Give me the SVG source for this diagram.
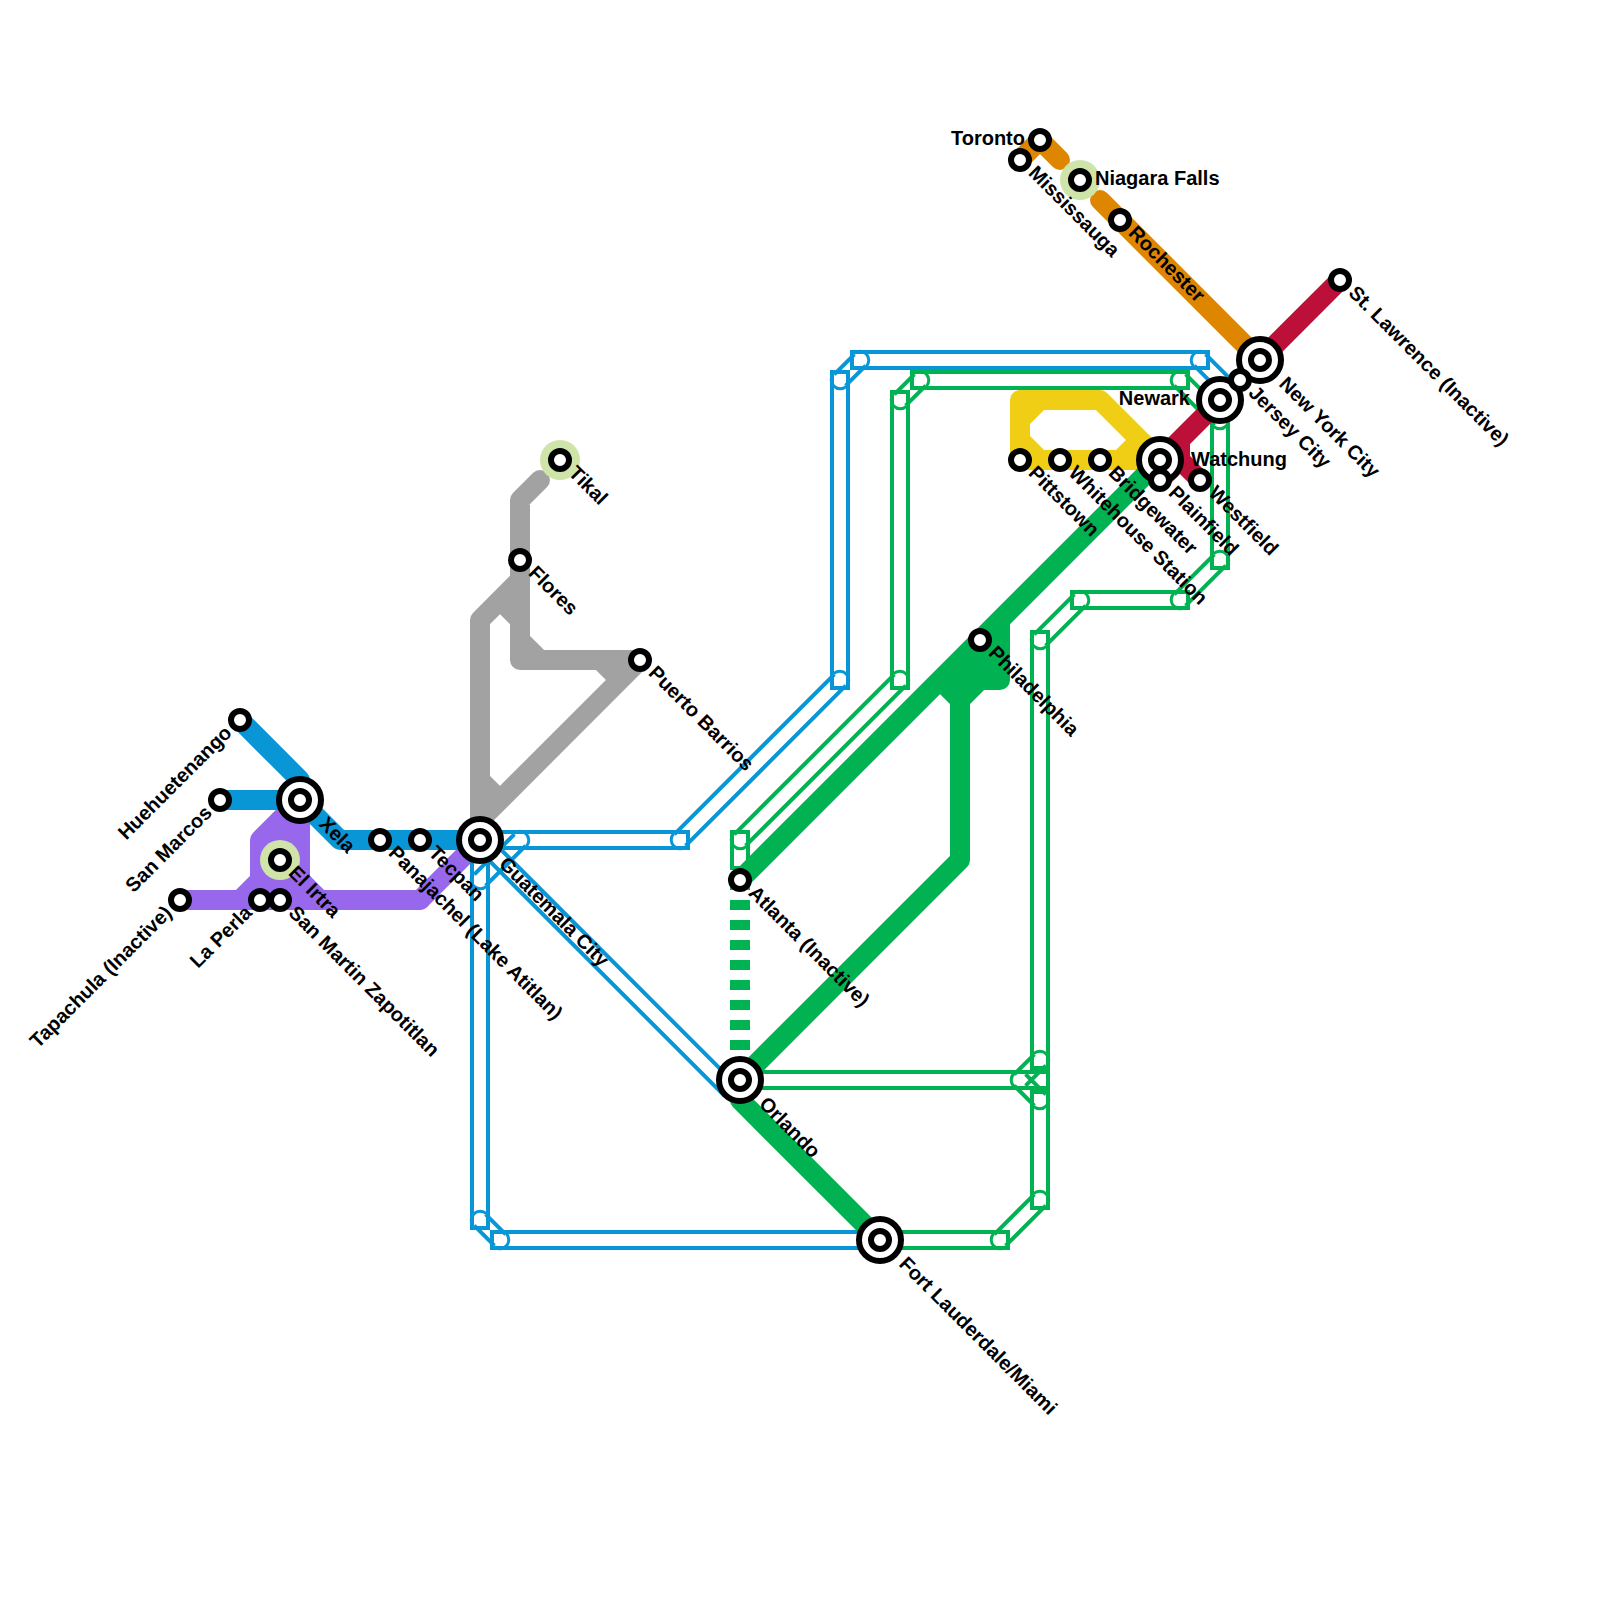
<svg xmlns="http://www.w3.org/2000/svg" width="1600" height="1600" viewBox="0 0 1600 1600">
<style>
.l{fill:none;stroke-width:20;stroke-linejoin:round;stroke-linecap:round}
.dash{fill:none;stroke:#00b251;stroke-width:20;stroke-dasharray:10 10}
.h{fill:none;stroke-width:4;stroke-linejoin:miter}
.c{fill:none;stroke-width:3}
.fg{fill:#00b251}
.blue{stroke:#0896d7}.green{stroke:#00b251}.orange{stroke:#df8600}.red{stroke:#bd1038}.yellow{stroke:#f0ce15}.purple{stroke:#9768ec}.gray{stroke:#a2a2a2}
.st,.ic{fill:#fff;stroke:#000;stroke-width:6}
.lm{fill:#cfe4a9}
text{font-family:"Liberation Sans",Arial,sans-serif;font-weight:700;font-size:20px;fill:#000}
.e{text-anchor:end}
</style>
<g id="connectors">
<path class="l purple" d="M180 900H240L260 880V840L300 800V880L320 900H420L480 840"/>
<path class="l purple" d="M240 900H420M280 820V900M260 880H300"/>
<path class="l gray" d="M480 840V620L520 580M540 480L520 500V660H640M640 660L480 820M500 600L520 620M520 640L540 660M600 660L620 680M480 780L500 800"/>
<path class="h blue" d="M472 832H688V848H472ZM832 372H848V688H832ZM852 352H1208V368H852ZM472 832H488V1228H472ZM492 1232H888V1248H492Z
M674.34 834.34L834.34 674.34M845.66 685.66L685.66 845.66
M834.34 374.34L854.34 354.34M865.66 365.66L845.66 385.66
M474.34 874.34L514.34 834.34M525.66 845.66L485.66 885.66
M1205.66 354.34L1235.66 384.34M1224.34 395.66L1194.34 365.66
M485.66 834.34L735.66 1084.34M724.34 1095.66L474.34 845.66
M485.66 1214.34L505.66 1234.34M494.34 1245.66L474.34 1225.66"/>
<path class="c blue" d="M833.64 673.64A9 9 0 0 1 846.36 686.36M686.36 846.36A9 9 0 0 1 673.64 833.64
M853.64 353.64A9 9 0 0 1 866.36 366.36M846.36 386.36A9 9 0 0 1 833.64 373.64
M513.64 833.64A9 9 0 0 1 526.36 846.36M486.36 886.36A9 9 0 0 1 473.64 873.64
M1193.64 366.36A9 9 0 0 1 1206.36 353.64M1236.36 383.64A9 9 0 0 1 1223.64 396.36
M473.64 1226.36A9 9 0 0 1 486.36 1213.64M506.36 1233.64A9 9 0 0 1 493.64 1246.36"/>
<path class="h green" d="M892 392H908V688H892ZM732 832H748V868H732ZM912 372H1188V388H912ZM1212 412H1228V568H1212ZM1072 592H1188V608H1072ZM1032 632H1048V1068H1032ZM1032 1092H1048V1208H1032ZM732 1072H1048V1088H732ZM872 1232H1008V1248H872Z
M894.34 394.34L914.34 374.34M925.66 385.66L905.66 405.66
M734.34 834.34L894.34 674.34M905.66 685.66L745.66 845.66
M1174.34 594.34L1214.34 554.34M1225.66 565.66L1185.66 605.66
M1034.34 634.34L1074.34 594.34M1085.66 605.66L1045.66 645.66
M994.34 1234.34L1034.34 1194.34M1045.66 1205.66L1005.66 1245.66
M1014.34 1074.34L1034.34 1054.34M1045.66 1065.66L1025.66 1085.66
M1185.66 374.34L1225.66 414.34M1214.34 425.66L1174.34 385.66
M1025.66 1074.34L1045.66 1094.34M1034.34 1105.66L1014.34 1085.66"/>
<path class="c green" d="M913.64 373.64A9 9 0 0 1 926.36 386.36M906.36 406.36A9 9 0 0 1 893.64 393.64
M893.64 673.64A9 9 0 0 1 906.36 686.36M746.36 846.36A9 9 0 0 1 733.64 833.64
M1213.64 553.64A9 9 0 0 1 1226.36 566.36M1186.36 606.36A9 9 0 0 1 1173.64 593.64
M1073.64 593.64A9 9 0 0 1 1086.36 606.36M1046.36 646.36A9 9 0 0 1 1033.64 633.64
M1033.64 1193.64A9 9 0 0 1 1046.36 1206.36M1006.36 1246.36A9 9 0 0 1 993.64 1233.64
M1033.64 1053.64A9 9 0 0 1 1046.36 1066.36M1026.36 1086.36A9 9 0 0 1 1013.64 1073.64
M1173.64 386.36A9 9 0 0 1 1186.36 373.64M1226.36 413.64A9 9 0 0 1 1213.64 426.36
M1013.64 1086.36A9 9 0 0 1 1026.36 1073.64M1046.36 1093.64A9 9 0 0 1 1033.64 1106.36"/>
<path class="l blue" d="M240 720L300 780V800M220 800H300L340 840H480"/>
<path class="l orange" d="M1020 160L1040 140L1060 160M1100 200L1260 360"/>
<path class="l yellow" d="M1060 460H1040L1020 440V420L1040 400H1100L1160 460M1020 460V400H1040M1020 460H1160M1120 460L1140 440"/>
<path class="l red" d="M1340 280L1260 360M1220 400L1160 460M1180 440V460L1200 480M1180 460L1160 480"/>
<path class="fg" d="M940 680L1000 620V680H980L960 700Z"/>
<path class="l green" d="M740 880L1160 460M940 680L960 700V860L740 1080V1100L880 1240M960 700L980 680H1000V620"/>
<path class="dash" d="M740 880V1080"/>
</g>
<g id="landmarks">
<circle class="lm" cx="1080" cy="180" r="20"/><circle class="lm" cx="560" cy="460" r="20"/><circle class="lm" cx="280" cy="860" r="20"/>
</g>
<g id="toronto"><circle class="st" cx="1040" cy="140" r="9"/><text class="e" x="1025" y="145">Toronto</text></g>
<g id="mississauga"><circle class="st" cx="1020" cy="160" r="9"/><text x="1027.5" y="174" transform="rotate(45 1027.5 174)">Mississauga</text></g>
<g id="niagara"><circle class="st" cx="1080" cy="180" r="9"/><text x="1095" y="185">Niagara Falls</text></g>
<g id="rochester"><circle class="st" cx="1120" cy="220" r="9"/><text x="1127.5" y="234" transform="rotate(45 1127.5 234)">Rochester</text></g>
<g id="stlawrence"><circle class="st" cx="1340" cy="280" r="9"/><text x="1347.5" y="294" transform="rotate(45 1347.5 294)">St. Lawrence (Inactive)</text></g>
<g id="nyc"><circle class="ic" cx="1260" cy="360" r="21"/><circle class="st" cx="1260" cy="360" r="9"/><text x="1278" y="385" transform="rotate(45 1278 385)">New York City</text></g>
<g id="newark"><circle class="ic" cx="1220" cy="400" r="21"/><circle class="st" cx="1220" cy="400" r="9"/><text class="e" x="1190" y="405">Newark</text></g>
<g id="jersey"><circle class="st" cx="1240" cy="380" r="9"/><text x="1247.5" y="394" transform="rotate(45 1247.5 394)">Jersey City</text></g>
<g id="watchung"><circle class="ic" cx="1160" cy="460" r="21"/><circle class="st" cx="1160" cy="460" r="9"/><text x="1191" y="466">Watchung</text></g>
<g id="plainfield"><circle class="st" cx="1160" cy="480" r="9"/><text x="1167.5" y="494" transform="rotate(45 1167.5 494)">Plainfield</text></g>
<g id="westfield"><circle class="st" cx="1200" cy="480" r="9"/><text x="1207.5" y="494" transform="rotate(45 1207.5 494)">Westfield</text></g>
<g id="pittstown"><circle class="st" cx="1020" cy="460" r="9"/><text x="1027.5" y="474" transform="rotate(45 1027.5 474)">Pittstown</text></g>
<g id="whitehouse"><circle class="st" cx="1060" cy="460" r="9"/><text x="1067.5" y="474" transform="rotate(45 1067.5 474)">Whitehouse Station</text></g>
<g id="bridgewater"><circle class="st" cx="1100" cy="460" r="9"/><text x="1107.5" y="474" transform="rotate(45 1107.5 474)">Bridgewater</text></g>
<g id="philadelphia"><circle class="st" cx="980" cy="640" r="9"/><text x="987.5" y="654" transform="rotate(45 987.5 654)">Philadelphia</text></g>
<g id="atlanta"><circle class="st" cx="740" cy="880" r="9"/><text x="747.5" y="894" transform="rotate(45 747.5 894)">Atlanta (Inactive)</text></g>
<g id="orlando"><circle class="ic" cx="740" cy="1080" r="21"/><circle class="st" cx="740" cy="1080" r="9"/><text x="758" y="1105" transform="rotate(45 758 1105)">Orlando</text></g>
<g id="fortlauderdale"><circle class="ic" cx="880" cy="1240" r="21"/><circle class="st" cx="880" cy="1240" r="9"/><text x="898" y="1265" transform="rotate(45 898 1265)">Fort Lauderdale/Miami</text></g>
<g id="guatemala"><circle class="ic" cx="480" cy="840" r="21"/><circle class="st" cx="480" cy="840" r="9"/><text x="498" y="865" transform="rotate(45 498 865)">Guatemala City</text></g>
<g id="tecpan"><circle class="st" cx="420" cy="840" r="9"/><text x="427.5" y="854" transform="rotate(45 427.5 854)">Tecpan</text></g>
<g id="panajachel"><circle class="st" cx="380" cy="840" r="9"/><text x="387.5" y="854" transform="rotate(45 387.5 854)">Panajachel (Lake Atitlan)</text></g>
<g id="xela"><circle class="ic" cx="300" cy="800" r="21"/><circle class="st" cx="300" cy="800" r="9"/><text x="318" y="825" transform="rotate(45 318 825)">Xela</text></g>
<g id="sanmarcos"><circle class="st" cx="220" cy="800" r="9"/><text class="e" x="213" y="814" transform="rotate(-45 213 814)">San Marcos</text></g>
<g id="huehuetenango"><circle class="st" cx="240" cy="720" r="9"/><text class="e" x="233" y="734" transform="rotate(-45 233 734)">Huehuetenango</text></g>
<g id="elirtra"><circle class="st" cx="280" cy="860" r="9"/><text x="287.5" y="874" transform="rotate(45 287.5 874)">El Irtra</text></g>
<g id="tapachula"><circle class="st" cx="180" cy="900" r="9"/><text class="e" x="173" y="914" transform="rotate(-45 173 914)">Tapachula (Inactive)</text></g>
<g id="laperla"><circle class="st" cx="260" cy="900" r="9"/><text class="e" x="253" y="914" transform="rotate(-45 253 914)">La Perla</text></g>
<g id="sanmartin"><circle class="st" cx="280" cy="900" r="9"/><text x="287.5" y="914" transform="rotate(45 287.5 914)">San Martin Zapotitlan</text></g>
<g id="flores"><circle class="st" cx="520" cy="560" r="9"/><text x="527.5" y="574" transform="rotate(45 527.5 574)">Flores</text></g>
<g id="tikal"><circle class="st" cx="560" cy="460" r="9"/><text x="567.5" y="474" transform="rotate(45 567.5 474)">Tikal</text></g>
<g id="puertobarrios"><circle class="st" cx="640" cy="660" r="9"/><text x="647.5" y="674" transform="rotate(45 647.5 674)">Puerto Barrios</text></g>
</svg>
